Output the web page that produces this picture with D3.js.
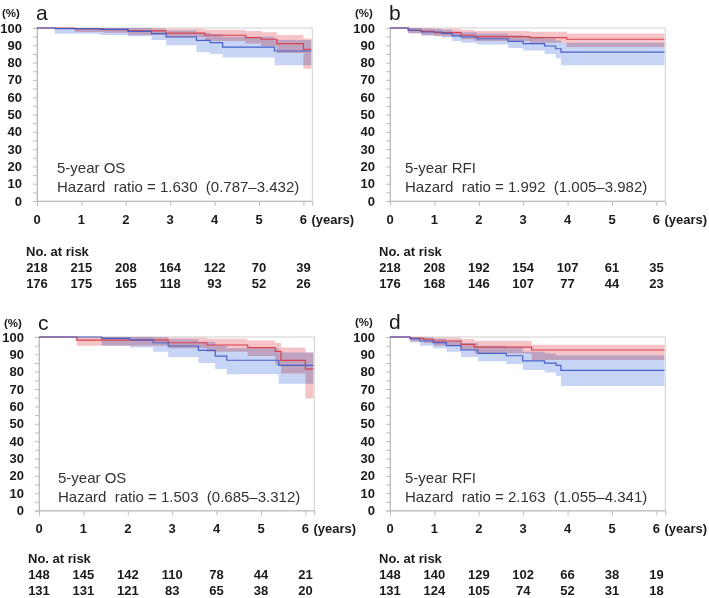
<!DOCTYPE html>
<html><head><meta charset="utf-8">
<script src="https://cdn.jsdelivr.net/npm/d3@7"></script>
<style>
body{margin:0;background:#fff}
svg text{font-family:"Liberation Sans",Arial,sans-serif}
</style></head>
<body><svg id="c" width="709" height="598"></svg>
<script>
// ---- data: [time (years), survival %, lower CI %, upper CI %] ----
const aRed  = [[0,100,100,100],[0.85,99.5,97.7,100],[1.5,99,97.2,100],[2.05,98.3,96,100],[2.9,97,94.5,99.5],[3.78,95.8,92.5,99],[4.7,94.4,91,98.3],[5.05,93.5,89.5,97.5],[5.4,91,85.5,96],[6.0,87.7,76.5,94]];
const aBlue = [[0,100,100,100],[0.4,99.6,96.7,100],[1.42,99.2,96,100],[2.05,98,95.3,99.8],[2.58,96.7,93,99.3],[2.91,94.8,90,98.5],[3.59,92.9,86,97.3],[3.9,91.5,85,96.5],[4.18,89,83,95],[5.35,86.7,78.4,93]];
const bRed  = [[0,100,100,100],[0.41,98.7,97,100],[0.7,98,96,99.8],[1.0,97.3,95.3,99.5],[1.6,95.8,93.5,98.8],[1.9,95,92.5,98.3],[3.15,94.4,91.5,97.8],[3.98,93.5,89,96.8]];
const bBlue = [[0,100,100,100],[0.41,98.7,97,100],[0.71,97.7,95.5,99.5],[1.17,96.9,94.5,99],[1.4,95.4,92.5,98],[1.6,94.8,91.5,97.5],[1.96,93.8,90.5,96.8],[2.66,92.3,88.5,95.8],[3.0,91,87,95],[3.48,89.6,85,94],[3.73,88,82.5,92.8],[3.85,86.1,78.5,91.5]];
const cRed  = [[0,100,100,100],[0.85,98.2,95,100],[2.91,96.7,93.5,99.5],[3.78,95.4,91.5,99],[4.7,93.9,89,98],[5.32,91.7,84,96.5],[5.45,86.5,79,94],[6.0,81.5,64.5,91]];
const cBlue = [[0,100,100,100],[1.41,99.2,95,100],[2.05,98.3,94,100],[2.57,96.7,91.5,99.5],[2.91,94.8,88.5,98.7],[3.59,92.3,85,97.3],[3.97,89,81.5,95.3],[4.23,86.6,78.5,93.5],[5.4,83.7,73,91]];
const dRed  = [[0,100,100,100],[0.45,99.2,97.5,100],[0.76,98.7,96.5,99.8],[0.98,97.7,95,99.5],[1.6,95.8,92.5,98.8],[1.9,94.2,90.5,97.8],[3.19,92.5,86.7,95.5]];
const dBlue = [[0,100,100,100],[0.45,99,97,100],[0.67,97.7,95,99.5],[0.97,96.8,93.5,99],[1.27,95,91.5,98],[1.6,92.5,88.5,96.5],[1.98,90.6,86,95],[2.62,89.2,84.5,94],[2.99,86.2,81,91.5],[3.48,85,79.5,90.5],[3.74,83.7,77.5,89.5],[3.85,80.8,71.8,89.5]];
const followUpEnd = 6.18;

const aRisk = [[218,215,208,164,122,70,39],[176,175,165,118,93,52,26]];
const bRisk = [[218,208,192,154,107,61,35],[176,168,146,107,77,44,23]];
const cRisk = [[148,145,142,110,78,44,21],[131,131,121,83,65,38,20]];
const dRisk = [[148,140,129,102,66,38,19],[131,124,105,74,52,31,18]];

const xTicks = [0,1,2,3,4,5,6];
const yTicks = [0,10,20,30,40,50,60,70,80,90,100];
const panelLetters = ["a","b","c","d"];
const endpoints = ["5-year OS","5-year RFI","5-year OS","5-year RFI"];
const hazardTexts = ["Hazard  ratio = 1.630  (0.787\u20133.432)","Hazard  ratio = 1.992  (1.005\u20133.982)","Hazard  ratio = 1.503  (0.685\u20133.312)","Hazard  ratio = 2.163  (1.055\u20134.341)"];

// ---- layout ----
const panels = [
  {red:aRed, blue:aBlue, risk:aRisk, x0:37,  top:28,  bottom:201,   labY:17,  riskY:70.5, txtX:20},
  {red:bRed, blue:bBlue, risk:bRisk, x0:390, top:28,  bottom:201,   labY:17,  riskY:70.5, txtX:15},
  {red:cRed, blue:cBlue, risk:cRisk, x0:39,  top:337, bottom:510.5, labY:327, riskY:68.5, txtX:19},
  {red:dRed, blue:dBlue, risk:dRisk, x0:390, top:337, bottom:510.5, labY:326, riskY:68.5, txtX:15}
];
const pxPerYear = 44.4;
const svg = d3.select("#c");
const axisCol = "#bdbdbd";

panels.forEach((p,i)=>{
  const x = d3.scaleLinear().domain([0,6.2]).range([p.x0, p.x0+6.2*pxPerYear]);
  const y = d3.scaleLinear().domain([0,100]).range([p.bottom, p.top]);
  const g = svg.append("g");

  // plot frame
  g.append("rect").attr("x",x(0)).attr("y",y(100)).attr("width",x(6.2)-x(0)).attr("height",y(0)-y(100))
    .attr("fill","none").attr("stroke","#d0d0d0").attr("stroke-width",1);

  // y axis
  const ya = d3.axisLeft(y).tickValues(d3.range(0,101,5)).tickSize(4).tickFormat("");
  g.append("g").attr("transform",`translate(${x(0)},0)`).call(ya)
    .call(s=>{s.selectAll("path,line").attr("stroke",axisCol);});
  g.selectAll(".ylab").data(yTicks).join("text")
    .attr("x",x(0)-15).attr("y",d=>y(d)+4.5).attr("text-anchor","end")
    .attr("font-size",13).attr("font-weight","bold").attr("fill","#1a1a1a").text(d=>d);

  // x axis
  const xa = d3.axisBottom(x).tickValues(xTicks).tickSize(5).tickFormat("");
  g.append("g").attr("transform",`translate(0,${y(0)})`).call(xa)
    .call(s=>{s.selectAll("path,line").attr("stroke",axisCol);});
  g.selectAll(".xlab").data(xTicks).join("text")
    .attr("x",d=>x(d)).attr("y",y(0)+22.5).attr("text-anchor","middle")
    .attr("font-size",13).attr("font-weight","bold").attr("fill","#1a1a1a").text(d=>d);
  g.append("text").attr("x",x(6)+8).attr("y",y(0)+22.5).attr("font-size",13).attr("font-weight","bold")
    .attr("fill","#1a1a1a").text("(years)");

  // header
  g.append("text").attr("x",x(0)-35).attr("y",p.labY).attr("font-size",11.5).attr("font-weight","bold")
    .attr("fill","#1a1a1a").text("(%)");
  g.append("text").attr("x",x(0)-1).attr("y",p.labY+2.5).attr("font-size",21).attr("fill","#1a1a1a").text(panelLetters[i]);

  // bands and lines
  const ext = s => s.concat([[followUpEnd, s[s.length-1][1], s[s.length-1][2], s[s.length-1][3]]]);
  const area = d3.area().curve(d3.curveStepAfter).x(d=>x(d[0])).y0(d=>y(d[2])).y1(d=>y(d[3]));
  const line = d3.line().curve(d3.curveStepAfter).x(d=>x(d[0])).y(d=>y(d[1]));
  g.append("path").datum(ext(p.red)).attr("d",area).attr("fill","#f6c3c7").style("mix-blend-mode","multiply");
  g.append("path").datum(ext(p.blue)).attr("d",area).attr("fill","#c6d4f6").style("mix-blend-mode","multiply");
  g.append("path").datum(ext(p.red)).attr("d",line).attr("fill","none").attr("stroke","#d8434d").attr("stroke-width",1.2);
  g.append("path").datum(ext(p.blue)).attr("d",line).attr("fill","none").attr("stroke","#4560c8").attr("stroke-width",1.2);

  // annotation
  g.append("text").attr("x",x(0)+p.txtX).attr("y",y(0)-28).attr("font-size",15).attr("fill","#333").text(endpoints[i]);
  g.append("text").attr("x",x(0)+p.txtX).attr("y",y(0)-9).attr("font-size",15).attr("fill","#333")
    .style("white-space","pre").text(hazardTexts[i]);

  // risk table
  g.append("text").attr("x",x(0)-11).attr("y",y(0)+p.riskY-16).attr("font-size",13).attr("font-weight","bold")
    .attr("fill","#1a1a1a").text("No. at risk");
  p.risk.forEach((row,r)=>{
    g.selectAll(".r"+r).data(row).join("text")
      .attr("x",(d,k)=>x(xTicks[k])).attr("y",y(0)+p.riskY+r*16.3).attr("text-anchor","middle")
      .attr("font-size",13).attr("font-weight","bold").attr("fill","#1a1a1a").text(d=>d);
  });
});
</script></body></html>
